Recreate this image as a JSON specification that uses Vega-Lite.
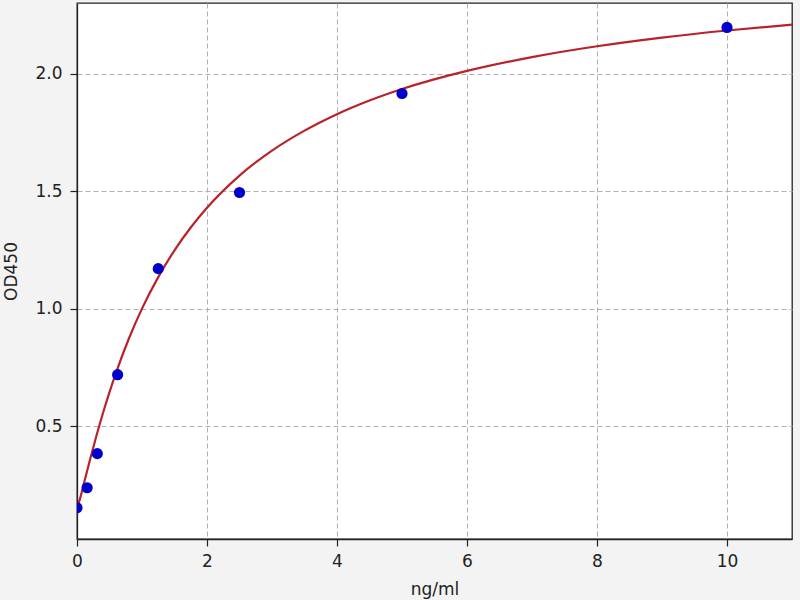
{
  "$schema": "https://vega.github.io/schema/vega-lite/v6.json",
  "autosize": {"type": "none"},
  "padding": {"left": 77, "top": 3, "right": 8, "bottom": 61},
  "width": 715,
  "height": 536,
  "background": "#f3f3f3",
  "config": {
    "font": "DejaVu Sans",
    "view": {"fill": "white", "stroke": "#222222", "strokeWidth": 1.3},
    "axis": {
      "labelFont": "DejaVu Sans",
      "labelFontSize": 17,
      "labelColor": "#222222",
      "labelFlush": false,
      "titleFont": "DejaVu Sans",
      "titleFontSize": 17,
      "titleFontWeight": "normal",
      "titleColor": "#222222",
      "domain": true,
      "domainColor": "#222222",
      "domainWidth": 1.3,
      "tickColor": "#222222",
      "tickSize": 7,
      "tickWidth": 1.2,
      "grid": true,
      "gridColor": "#b0b0b0",
      "gridDash": [5, 3],
      "gridWidth": 1
    }
  },
  "datasets": {
    "points": [
      {"conc": 0, "od": 0.153},
      {"conc": 0.156, "od": 0.238},
      {"conc": 0.3125, "od": 0.383},
      {"conc": 0.625, "od": 0.719},
      {"conc": 1.25, "od": 1.17},
      {"conc": 2.5, "od": 1.494},
      {"conc": 5, "od": 1.915},
      {"conc": 10, "od": 2.196}
    ],
    "curve": [
      {"conc": 0, "od": 0.15},
      {"conc": 0.05, "od": 0.195},
      {"conc": 0.1, "od": 0.25},
      {"conc": 0.2, "od": 0.357},
      {"conc": 0.3, "od": 0.46},
      {"conc": 0.4, "od": 0.556},
      {"conc": 0.5, "od": 0.645},
      {"conc": 0.6, "od": 0.727},
      {"conc": 0.8, "od": 0.874},
      {"conc": 1.0, "od": 1.0},
      {"conc": 1.25, "od": 1.134},
      {"conc": 1.5, "od": 1.248},
      {"conc": 1.75, "od": 1.345},
      {"conc": 2, "od": 1.429},
      {"conc": 2.5, "od": 1.566},
      {"conc": 3, "od": 1.672},
      {"conc": 3.5, "od": 1.757},
      {"conc": 4, "od": 1.827},
      {"conc": 4.5, "od": 1.885},
      {"conc": 5, "od": 1.934},
      {"conc": 6, "od": 2.011},
      {"conc": 7, "od": 2.07},
      {"conc": 8, "od": 2.116},
      {"conc": 9, "od": 2.153},
      {"conc": 10, "od": 2.183},
      {"conc": 11, "od": 2.208}
    ]
  },
  "encoding": {
    "x": {
      "field": "conc",
      "type": "quantitative",
      "title": "ng/ml",
      "scale": {"domain": [0, 11], "nice": false, "zero": false},
      "axis": {"values": [0, 2, 4, 6, 8, 10], "format": "d", "labelPadding": 7, "titlePadding": 12}
    },
    "y": {
      "field": "od",
      "type": "quantitative",
      "title": "OD450",
      "scale": {"domain": [0.02, 2.3], "nice": false, "zero": false},
      "axis": {"values": [0.5, 1.0, 1.5, 2.0], "format": ".1f", "labelPadding": 8, "titlePadding": 14}
    }
  },
  "layer": [
    {
      "data": {"name": "curve"},
      "mark": {"type": "line", "color": "#b8232a", "strokeWidth": 2.2, "interpolate": "monotone", "clip": true}
    },
    {
      "data": {"name": "points"},
      "mark": {"type": "circle", "color": "#0000cc", "opacity": 1, "size": 125, "clip": true}
    }
  ]
}
